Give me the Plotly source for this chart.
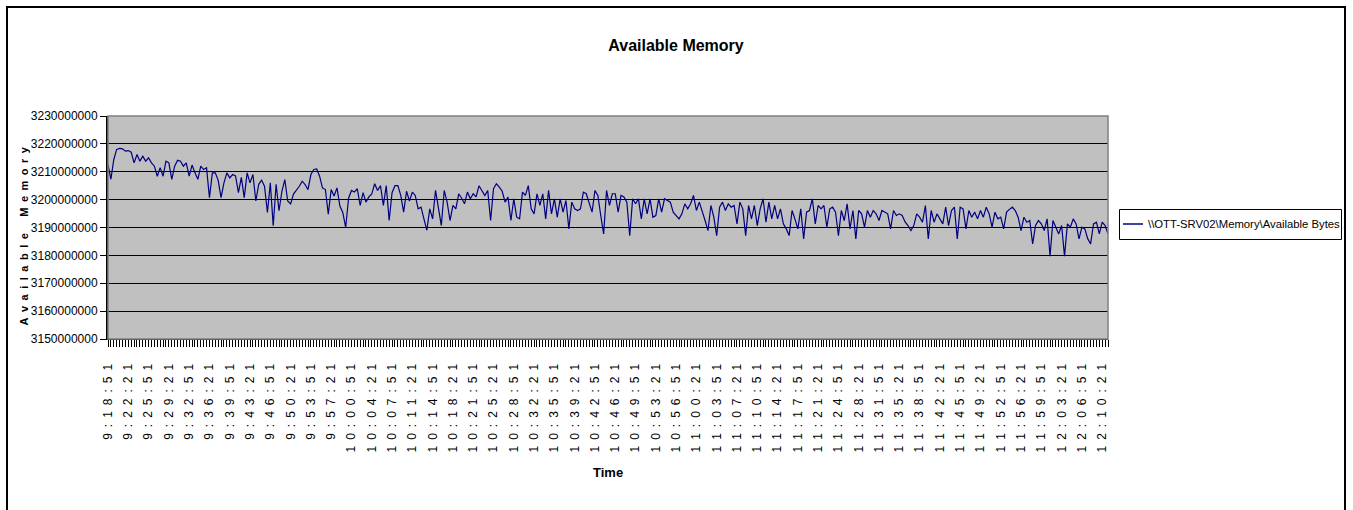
import plotly.graph_objects as go
import pandas as pd

# ---- data (available memory, in millions of bytes, one sample every 30 s) ----
avail_mb = [
    3212.6, 3207.3, 3214.4, 3218.0, 3218.4, 3218.2, 3217.4, 3217.6, 3217.0, 3213.2,
    3216.2, 3213.8, 3215.6, 3213.8, 3215.0, 3213.2, 3212.0, 3208.4, 3211.5, 3208.4,
    3213.8, 3213.2, 3207.3, 3212.0, 3214.1, 3213.8, 3212.0, 3213.2, 3208.4, 3212.4,
    3209.6, 3207.3, 3212.0, 3210.8, 3211.4, 3200.7, 3209.6, 3209.6, 3207.0, 3200.7,
    3206.0, 3209.6, 3207.8, 3209.0, 3208.5, 3202.5, 3208.0, 3200.7, 3209.6, 3206.0,
    3209.0, 3199.5, 3205.5, 3207.0, 3204.8, 3195.4, 3206.0, 3190.6, 3205.5, 3196.0,
    3203.0, 3207.2, 3199.5, 3198.5, 3202.0, 3203.2, 3204.8, 3206.6, 3205.4, 3203.6,
    3209.0, 3210.8, 3211.0, 3208.4, 3204.2, 3203.6, 3194.8, 3203.6, 3201.3, 3204.2,
    3197.7, 3195.4, 3190.0, 3200.5, 3203.3, 3202.7, 3203.9, 3197.9, 3202.5, 3199.1,
    3201.0, 3202.0, 3205.7, 3203.3, 3205.0, 3197.9, 3205.0, 3192.5, 3202.5, 3205.0,
    3205.0, 3201.5, 3195.5, 3203.0, 3199.5, 3202.7, 3201.5, 3196.7, 3197.3, 3193.1,
    3189.0, 3196.7, 3193.1, 3203.3, 3196.7, 3190.7, 3203.3, 3199.1, 3192.5, 3197.9,
    3196.7, 3202.1, 3200.5, 3198.5, 3202.7, 3200.3, 3202.1, 3201.0, 3205.0, 3203.3,
    3201.5, 3203.3, 3192.5, 3203.9, 3205.7, 3204.5, 3203.0, 3199.1, 3200.9, 3192.5,
    3200.3, 3193.7, 3193.1, 3202.7, 3201.5, 3205.0, 3196.7, 3194.9, 3202.1, 3197.9,
    3202.1, 3193.1, 3203.3, 3194.9, 3200.3, 3193.7, 3200.3, 3195.5, 3199.7, 3189.5,
    3199.1, 3196.7, 3196.1, 3196.7, 3202.7, 3202.1, 3199.1, 3195.5, 3203.3, 3201.5,
    3194.3, 3187.7, 3203.3, 3197.9, 3202.1, 3202.1, 3195.5, 3201.5, 3201.0, 3199.1,
    3187.1, 3200.3, 3198.5, 3200.3, 3193.1, 3200.3, 3194.9, 3200.3, 3193.7, 3194.3,
    3200.3, 3195.5, 3200.3, 3199.7, 3199.1, 3195.5, 3194.3, 3193.1, 3194.9, 3198.5,
    3196.7, 3198.5, 3201.5, 3196.1, 3199.1, 3196.1, 3192.5, 3188.9, 3197.9, 3193.7,
    3187.1, 3197.3, 3199.1, 3196.1, 3198.5, 3197.3, 3197.9, 3191.3, 3199.1, 3196.7,
    3187.1, 3197.9, 3193.1, 3197.9, 3190.7, 3196.7, 3200.3, 3191.9, 3199.1, 3193.1,
    3197.9, 3193.1, 3196.7, 3191.3, 3189.5, 3187.1, 3196.1, 3193.0, 3189.5, 3196.7,
    3185.9, 3195.5, 3196.1, 3200.3, 3191.3, 3197.9, 3196.7, 3197.9, 3190.1, 3196.7,
    3197.3, 3195.5, 3187.1, 3196.1, 3192.5, 3198.5, 3189.5, 3196.1, 3185.9, 3196.1,
    3194.9, 3190.1, 3196.1, 3193.7, 3196.1, 3194.9, 3192.5, 3196.1, 3195.5, 3194.9,
    3189.5, 3196.1, 3194.3, 3194.9, 3194.3, 3192.0, 3190.7, 3188.9, 3190.7, 3194.9,
    3193.7, 3191.9, 3197.9, 3185.9, 3196.1, 3191.9, 3194.9, 3193.0, 3191.3, 3197.3,
    3190.7, 3196.1, 3197.3, 3185.9, 3197.3, 3196.7, 3189.5, 3196.1, 3193.7, 3195.5,
    3193.1, 3196.1, 3193.7, 3197.3, 3194.9, 3190.1, 3195.5, 3193.1, 3193.7, 3189.5,
    3195.5, 3196.5, 3197.3, 3196.1, 3193.7, 3188.9, 3193.7, 3191.9, 3192.5, 3184.1,
    3190.7, 3192.5, 3191.3, 3188.9, 3193.1, 3179.7, 3192.5, 3190.1, 3187.7, 3190.7,
    3179.7, 3191.3, 3190.1, 3193.1, 3191.3, 3185.9, 3190.1, 3189.5, 3186.0, 3184.1,
    3191.3, 3191.9, 3187.7, 3191.9, 3190.7, 3187.7,
]

tick_labels = [
    "9:18:51", "9:22:21", "9:25:51", "9:29:21", "9:32:51", "9:36:21", "9:39:51",
    "9:43:21", "9:46:51", "9:50:21", "9:53:51", "9:57:21",
    "10:00:51", "10:04:21", "10:07:51", "10:11:21", "10:14:51", "10:18:21",
    "10:21:51", "10:25:21", "10:28:51", "10:32:21", "10:35:51", "10:39:21",
    "10:42:51", "10:46:21", "10:49:51", "10:53:21", "10:56:51",
    "11:00:21", "11:03:51", "11:07:21", "11:10:51", "11:14:21", "11:17:51",
    "11:21:21", "11:24:51", "11:28:21", "11:31:51", "11:35:21", "11:38:51",
    "11:42:21", "11:45:51", "11:49:21", "11:52:51", "11:56:21", "11:59:51",
    "12:03:21", "12:06:51", "12:10:21",
]

y_ticks = [3150000000, 3160000000, 3170000000, 3180000000,
           3190000000, 3200000000, 3210000000, 3220000000, 3230000000]

series_name = "\\\\OTT-SRV02\\Memory\\Available Bytes"

# categories: sample times
stamps = pd.date_range("2000-01-01 09:18:51", periods=len(avail_mb), freq="30s")
times = [f"{t.hour}:{t.minute:02d}:{t.second:02d}" for t in stamps]
values = [v * 1e6 for v in avail_mb]

SP = "\u2002"


def spaced(s):
    return SP.join(s)


ticktext = [spaced(t) if t in tick_labels else "" for t in times]

FONT = "Liberation Sans, Arial, sans-serif"
LINE_COLOR = "#000080"

W, H = 1353, 510
L, R, T, B = 108, 245, 116, 171
PW, PH = W - L - R, H - T - B


def px(x):
    return (x - L) / PW


def py(y):
    return (H - B - y) / PH


fig = go.Figure()
fig.add_trace(go.Scatter(
    x=times, y=values, mode="lines", name=series_name,
    line=dict(color=LINE_COLOR, width=1.2), showlegend=False,
))

fig.update_layout(
    width=W, height=H,
    margin=dict(l=L, r=R, t=T, b=B, pad=0, autoexpand=False),
    paper_bgcolor="white",
    plot_bgcolor="#C0C0C0",
    font=dict(family=FONT, color="black"),
    title=dict(text="<b>Available Memory</b>", x=676 / W, xref="container",
               xanchor="center", y=1 - 45 / H, yanchor="middle",
               font=dict(size=16, family=FONT, color="black")),
    showlegend=False,
    xaxis=dict(
        type="category", range=[0, len(times) - 1],
        tickmode="array", tickvals=times, ticktext=ticktext,
        tickangle=-90, ticks="outside", ticklen=7, tickwidth=1, tickcolor="black",
        ticklabelstandoff=12,
        tickfont=dict(size=12, family=FONT, color="black"),
        showgrid=False, showline=True, linecolor="black", linewidth=1,
        zeroline=False,
    ),
    yaxis=dict(
        range=[3150000000, 3230000000], tickmode="array", tickvals=y_ticks,
        ticktext=[str(v) for v in y_ticks],
        ticks="outside", ticklen=6, tickcolor="black",
        tickfont=dict(size=12, family=FONT, color="black"),
        showgrid=True, gridcolor="black", gridwidth=1,
        showline=True, linecolor="black", linewidth=2, zeroline=False,
    ),
    annotations=[
        dict(text="<b>Time</b>", x=0.5, y=py(472), xref="paper", yref="paper",
             showarrow=False, xanchor="center", yanchor="middle",
             font=dict(size=13, family=FONT, color="black")),
        dict(text="<b>" + spaced("Available") + SP + SP + SP + spaced("Memory") + "</b>",
             x=px(23), y=py(236.5), xref="paper", yref="paper",
             showarrow=False, textangle=-90, xanchor="center", yanchor="middle",
             font=dict(size=11, family=FONT, color="black")),
        # legend label
        dict(text=series_name, x=px(1146), y=py(224), xref="paper", yref="paper",
             showarrow=False, xanchor="left", yanchor="middle",
             font=dict(size=11.3, family=FONT, color="black")),
    ],
    shapes=[
        dict(type="rect", xref="paper", yref="paper", x0=0, x1=1, y0=0, y1=1,
             line=dict(color="#808080", width=1.5), layer="above"),
        # outer chart frame
        dict(type="rect", xref="paper", yref="paper",
             x0=px(7), x1=px(1345), y0=py(530), y1=py(7),
             line=dict(color="black", width=2), layer="above"),
        # legend box and sample line
        dict(type="rect", xref="paper", yref="paper",
             x0=px(1119.5), x1=px(1341.5), y0=py(239.5), y1=py(209.5),
             fillcolor="white", line=dict(color="black", width=1), layer="above"),
        dict(type="line", xref="paper", yref="paper",
             x0=px(1123), x1=px(1143), y0=py(224), y1=py(224),
             line=dict(color=LINE_COLOR, width=1.5), layer="above"),
    ],
)

fig.write_html("out.html")
